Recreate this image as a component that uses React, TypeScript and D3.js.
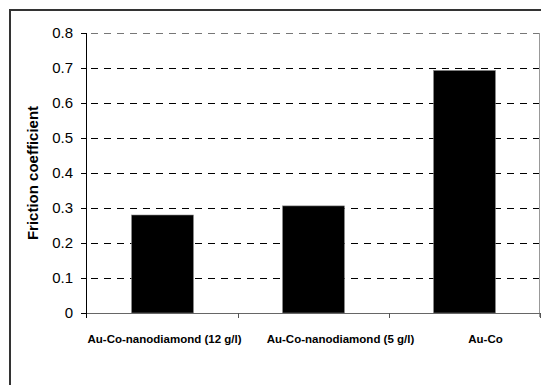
import React from "react";
import * as d3 from "d3";

const categories = [
  "Au-Co-nanodiamond (12 g/l)",
  "Au-Co-nanodiamond (5 g/l)",
  "Au-Co",
];
const values = [0.28, 0.306, 0.693];
const yTicks = [0, 0.1, 0.2, 0.3, 0.4, 0.5, 0.6, 0.7, 0.8];
const yTitle = "Friction coefficient";

// label horizontal nudges (style only)
const labelShift = [2, 27, 21];

export default function App() {
  const W = 541;
  const H = 385;
  const left = 87;
  const right = 540;
  const top = 33;
  const bottom = 313;

  const x = d3
    .scaleBand<string>()
    .domain(categories)
    .range([left, right])
    .paddingInner(0.59)
    .paddingOuter(0.295);
  const y = d3.scaleLinear().domain([0, 0.8]).range([bottom, top]);
  const step = x.step();
  const font = "'Liberation Sans', Arial, sans-serif";

  return (
    <svg
      width={W}
      height={H}
      style={{ position: "absolute", left: 0, top: 0, background: "#fff" }}
    >
      <rect x={0} y={0} width={W} height={H} fill="#fff" />
      {/* outer frame */}
      <rect
        x={10}
        y={10}
        width={W + 10}
        height={H + 10}
        fill="none"
        stroke="#333"
        strokeWidth={2}
      />
      {/* gridlines */}
      {yTicks
        .filter((t) => t > 0)
        .map((t) => (
          <line
            key={t}
            x1={left}
            x2={right}
            y1={Math.round(y(t)) + 0.5}
            y2={Math.round(y(t)) + 0.5}
            stroke={t === 0.8 ? "#777" : "#000"}
            strokeWidth={1}
            strokeDasharray="7,6"
            strokeDashoffset={-4}
          />
        ))}
      {/* right border */}
      <line x1={right - 0.5} x2={right - 0.5} y1={top} y2={bottom + 4} stroke="#999" />
      {/* bars */}
      {categories.map((c, i) => (
        <rect
          key={c}
          x={x(c)}
          y={y(values[i])}
          width={x.bandwidth()}
          height={bottom - y(values[i])}
          fill="#000"
          stroke="#888"
          strokeWidth={0.6}
        />
      ))}
      {/* x axis */}
      <line x1={left} x2={right} y1={bottom + 0.5} y2={bottom + 0.5} stroke="#666" strokeWidth={1.2} />
      {categories.map((c) => (
        <line
          key={"t" + c}
          x1={(x(c) as number) - step * 0.295 + step + 0.5}
          x2={(x(c) as number) - step * 0.295 + step + 0.5}
          y1={bottom}
          y2={bottom + 5}
          stroke="#555"
        />
      ))}
      {/* y axis */}
      <line x1={left - 0.5} x2={left - 0.5} y1={top} y2={bottom + 5} stroke="#000" />
      {yTicks.map((t) => (
        <g key={"y" + t}>
          <line
            x1={left - 6}
            x2={left}
            y1={Math.round(y(t)) + 0.5}
            y2={Math.round(y(t)) + 0.5}
            stroke="#000"
          />
          <text
            x={73}
            y={y(t)}
            dy="0.36em"
            textAnchor="end"
            fontFamily={font}
            fontSize={15}
            fill="#000"
          >
            {t === 0 ? "0" : t.toFixed(1)}
          </text>
        </g>
      ))}
      {/* category labels */}
      {categories.map((c, i) => (
        <text
          key={"l" + c}
          x={(x(c) as number) + x.bandwidth() / 2 + labelShift[i]}
          y={343}
          textAnchor="middle"
          fontFamily={font}
          fontSize={11.5}
          fontWeight="bold"
          fill="#000"
        >
          {c}
        </text>
      ))}
      {/* y title */}
      <text
        transform={`translate(38, ${(top + bottom) / 2}) rotate(-90)`}
        textAnchor="middle"
        fontFamily={font}
        fontSize={15}
        fontWeight="bold"
        fill="#000"
      >
        {yTitle}
      </text>
    </svg>
  );
}
